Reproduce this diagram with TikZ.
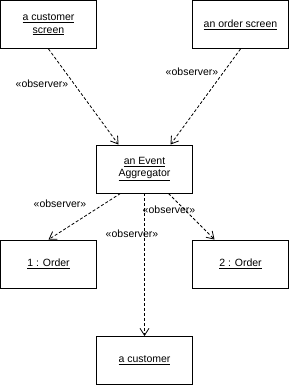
\documentclass[tikz,border=0pt]{standalone}
\usepackage{fontspec}
\setmainfont{Liberation Sans}
\usetikzlibrary{arrows.meta}

\begin{document}
\begin{tikzpicture}[x=1pt,y=-1pt,>={Straight Barb[length=7pt,width=9pt]},
  every node/.style={font=\fontsize{10.5}{12.5}\selectfont},
  obj/.style={draw,line width=0.9pt,fill=white,minimum width=96pt,minimum height=48pt,align=center,inner sep=1pt},
  dep/.style={->,line width=0.8pt,dash pattern=on 3pt off 2pt},
  stereo/.style={inner sep=0pt}]

\useasboundingbox (0,0) rectangle (289,385);

% row heights
\def\ytop{24.5}
\def\ymid{169}
\def\yord{264}
\def\ybot{360.5}

% objects
\node[obj] (cscreen) at (48.5,\ytop) {\underline{a customer}\\\underline{screen}};
\node[obj] (oscreen) at (240.5,\ytop) {\underline{an order screen}};
\node[obj] (agg) at (144.5,\ymid) {\underline{an Event}\\\underline{Aggregator}};
\node[obj] (order1) at (48.5,\yord) {\underline{1 : Order}};
\node[obj] (order2) at (240.5,\yord) {\underline{2 : Order}};
\node[obj] (cust) at (144.5,\ybot) {\underline{a customer}};

% observer dependencies
\draw[dep] (cscreen.south) -- ([xshift=-26pt]agg.north);
\draw[dep] (oscreen.south) -- ([xshift=26pt]agg.north);
\draw[dep] ([xshift=-24pt]agg.south) -- (order1.north);
\draw[dep] ([xshift=24pt]agg.south) -- ([xshift=-26pt]order2.north);
\draw[dep] (agg.south) -- (cust.north);

% stereotypes
\node[stereo] (s1) at (42,84) {«observer»};
\node[stereo] (s2) at (192,72) {«observer»};
\node[stereo] (s3) at (60,204) {«observer»};
\node[stereo] (s4) at (169,210) {«observer»};
\node[stereo] (s5) at (132,234) {«observer»};

\end{tikzpicture}
\end{document}
